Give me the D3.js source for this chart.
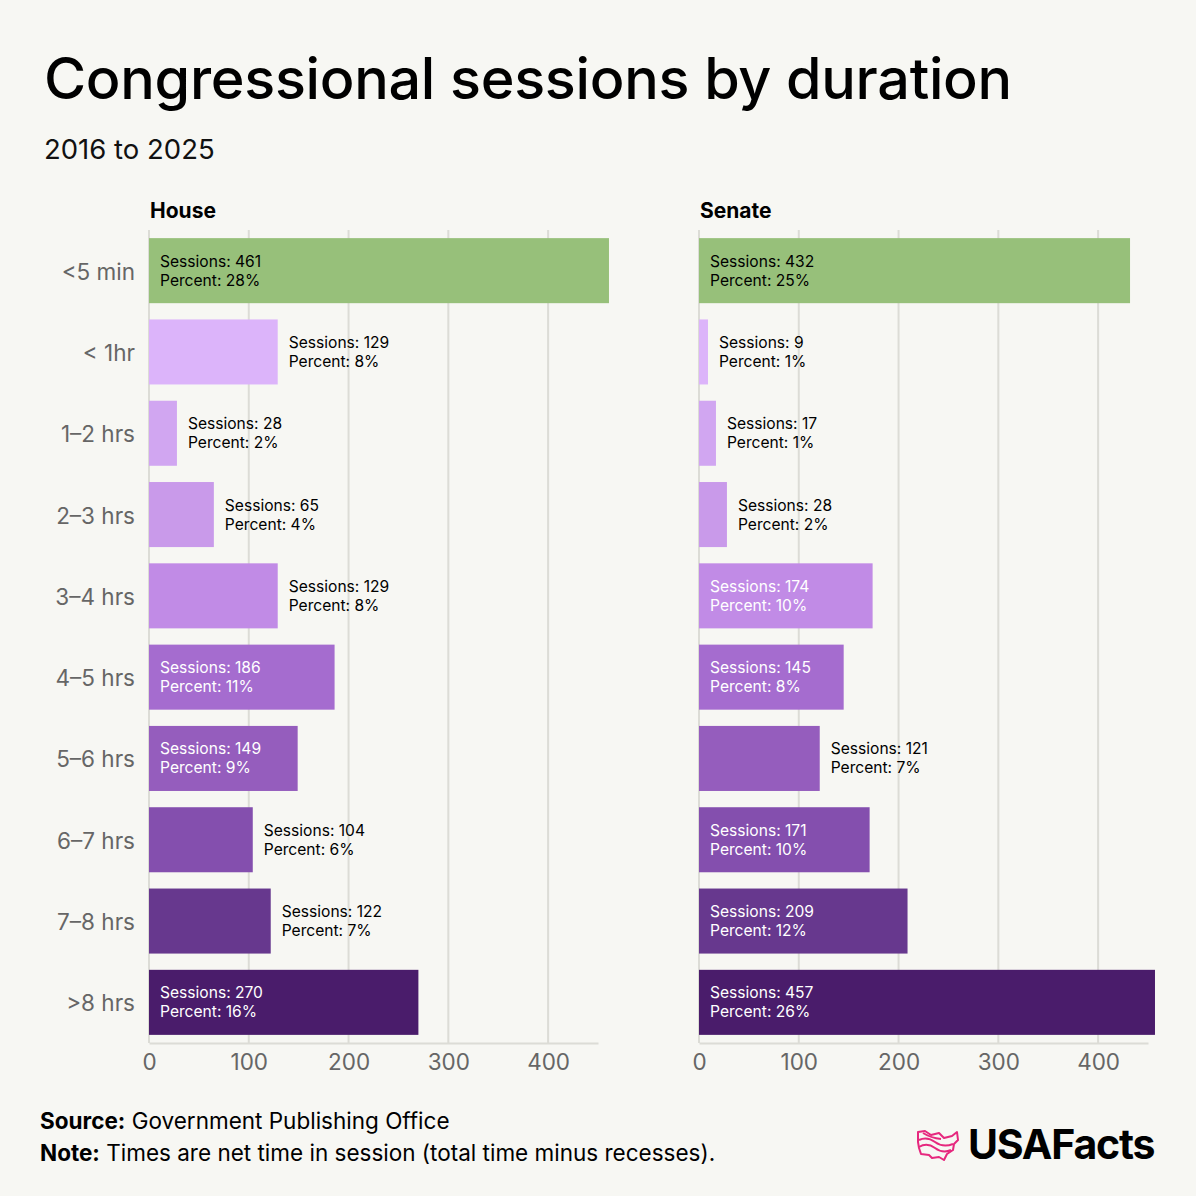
<!DOCTYPE html>
<html><head><meta charset="utf-8">
<script src="https://cdn.jsdelivr.net/npm/d3@7"></script>
<style>
html,body{margin:0;padding:0;background:#f7f7f3;}
svg{display:block;font-family:Inter,"Noto Sans",sans-serif;}
</style></head>
<body>
<svg id="chart" width="1196" height="1196"></svg>
<script>
const categories = ["<5 min","< 1hr","1\u20132 hrs","2\u20133 hrs","3\u20134 hrs","4\u20135 hrs","5\u20136 hrs","6\u20137 hrs","7\u20138 hrs",">8 hrs"];
const houseSessions = [461,129,28,65,129,186,149,104,122,270];
const housePercent = [28,8,2,4,8,11,9,6,7,16];
const senateSessions = [432,9,17,28,174,145,121,171,209,457];
const senatePercent = [25,1,1,2,10,8,7,10,12,26];
const barColors = ["#97c07a","#dcb4fa","#d1a6f1","#c99aea","#c18be6","#a56ccf","#955dbd","#844fae","#67388e","#4a1c6b"];
const tickValues = [0,100,200,300,400];

const svg = d3.select("#chart");
svg.append("rect").attr("width",1196).attr("height",1196).attr("fill","#f7f7f3");

svg.append("text").attr("x",44).attr("y",99).attr("font-size",57.5).attr("font-weight",500)
  .attr("fill","#000").attr("letter-spacing","-0.3").text("Congressional sessions by duration");
svg.append("text").attr("x",44).attr("y",159).attr("font-size",27.5).attr("fill","#111").text("2016 to 2025");

const y = d3.scaleBand().domain(categories).range([230,1043]).paddingInner(0.2).paddingOuter(0.1);

function panel(x0, title, sessions, percent, showCats){
  const x = d3.scaleLinear().domain([0,450]).range([x0, x0+449]);
  const g = svg.append("g");
  g.append("text").attr("x",x0+1).attr("y",218).attr("font-size",21).attr("font-weight",700).attr("fill","#000").text(title);
  g.selectAll("line.grid").data(tickValues).join("line")
    .attr("x1",d=>x(d)).attr("x2",d=>x(d)).attr("y1",230).attr("y2",1043)
    .attr("stroke","#dcdcd6").attr("stroke-width",2);
  const ax = g.append("g").attr("transform","translate(0,1043)")
    .call(d3.axisBottom(x).tickValues(tickValues).tickSize(0).tickPadding(11));
  ax.select(".domain").attr("stroke","#dcdcd6").attr("stroke-width",2);
  ax.selectAll("text").attr("font-size",22.5).attr("fill","#666").attr("font-family",'Inter,"Noto Sans",sans-serif');
  if(showCats){
    g.selectAll("text.cat").data(categories).join("text")
      .attr("x",x0-14).attr("y",d=>y(d)+y.bandwidth()/2+9).attr("text-anchor","end")
      .attr("font-size",22.5).attr("fill","#666").text(d=>d);
  }
  g.selectAll("rect.bar").data(categories).join("rect")
    .attr("x",x(0)).attr("y",d=>y(d)).attr("height",y.bandwidth())
    .attr("width",(d,i)=>x(sessions[i])-x(0)).attr("fill",(d,i)=>barColors[i]);
  categories.forEach((c,i)=>{
    const inside = sessions[i] >= 140;
    const tx = inside ? x(0)+11 : x(sessions[i])+11;
    const col = inside ? (i===0 ? "#000" : "#fff") : "#000";
    const cy = y(c)+y.bandwidth()/2;
    const t = g.append("text").attr("font-size",15.6).attr("fill",col);
    t.append("tspan").attr("x",tx).attr("y",cy-4).text("Sessions: "+sessions[i]);
    t.append("tspan").attr("x",tx).attr("y",cy+15).text("Percent: "+percent[i]+"%");
  });
}
panel(149,"House",houseSessions,housePercent,true);
panel(699,"Senate",senateSessions,senatePercent,false);

const src = svg.append("text").attr("x",40).attr("y",1129).attr("font-size",22.5).attr("fill","#000");
src.append("tspan").attr("font-weight",700).text("Source:");
src.append("tspan").text(" Government Publishing Office");
const note = svg.append("text").attr("x",40).attr("y",1161).attr("font-size",22.5).attr("fill","#000");
note.append("tspan").attr("font-weight",700).text("Note:");
note.append("tspan").text(" Times are net time in session (total time minus recesses).");

const lg = svg.append("g").attr("transform","translate(917,1130)").attr("fill","none").attr("stroke","#e6287e").attr("stroke-width",2).attr("stroke-linejoin","round");
lg.append("path").attr("d","M1,2 L8,1 L14,5 L22,3 L27,8 L35,6 L40,2 L41,10 L37,14 L36,20 L30,24 L27,30 L22,27 L15,28 L12,25 L4,24 L2,18 L1,12 Z");
lg.append("path").attr("d","M2,10 Q10,6 18,12 Q26,18 36,14");
lg.append("path").attr("d","M2,17 Q10,12 18,18 Q26,24 34,20");
lg.append("path").attr("d","M6,3 Q14,8 24,9");
svg.append("text").attr("x",968).attr("y",1159).attr("font-size",41).attr("font-weight",700).attr("letter-spacing","-1.2").attr("fill","#000").text("USAFacts");
</script>
</body></html>
